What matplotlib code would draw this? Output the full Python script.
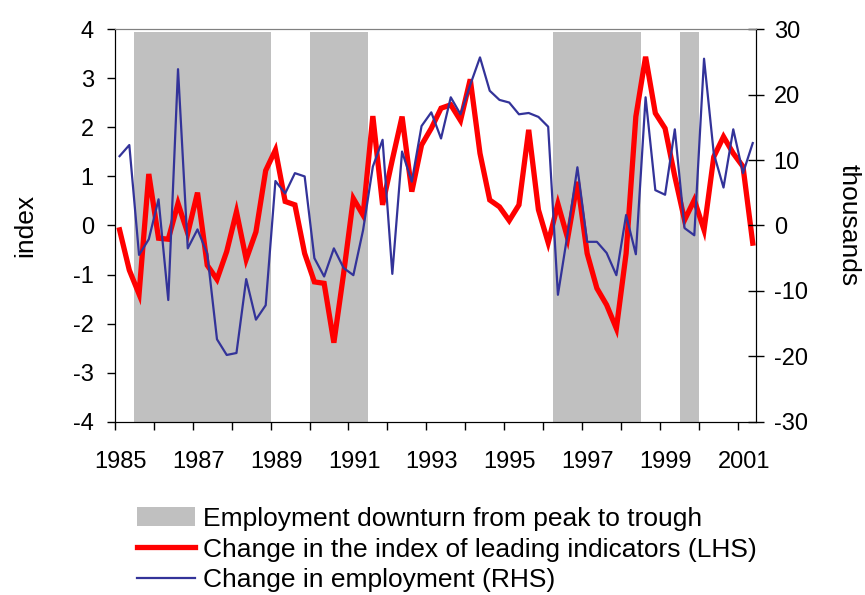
import numpy as np
import matplotlib
matplotlib.use("Agg")
import matplotlib.pyplot as plt
from matplotlib.patches import Patch
from matplotlib.transforms import ScaledTranslation

plt.rcParams["font.family"] = ["Liberation Sans", "DejaVu Sans"]
plt.rcParams["axes.unicode_minus"] = False  # plain hyphen like the original

## quarterly data, 1985 Q1 to 2001 Q3
start_year = 1985

leading_idx = [-0.09, -0.91, -1.40, 1.05, -0.26, -0.28, 0.45, -0.16, 0.67, -0.81,
               -1.10, -0.53, 0.28, -0.69, -0.13, 1.12, 1.54, 0.49, 0.42, -0.57,
               -1.15, -1.18, -2.39, -0.98, 0.55, 0.21, 2.23, 0.42, 1.34, 2.22,
               0.69, 1.64, 1.98, 2.39, 2.46, 2.14, 2.98, 1.47, 0.52, 0.38,
               0.10, 0.42, 1.95, 0.32, -0.35, 0.44, -0.26, 0.89, -0.57, -1.28,
               -1.62, -2.10, -0.57, 2.22, 3.44, 2.29, 1.98, 1.00, 0.11, 0.52,
               -0.09, 1.40, 1.81, 1.47, 1.20, -0.36]

employment = [10.6, 12.3, -4.5, -2.1, 4.0, -11.4, 23.9, -3.5, -0.6, -4.3,
              -17.4, -19.8, -19.5, -8.2, -14.4, -12.2, 6.8, 4.9, 8.0, 7.5,
              -5.0, -7.8, -3.5, -6.5, -7.6, -0.7, 9.0, 13.1, -7.4, 11.3,
              6.7, 15.2, 17.3, 13.3, 19.6, 17.0, 21.5, 25.7, 20.6, 19.2,
              18.8, 17.0, 17.2, 16.6, 15.1, -10.6, -1.2, 8.9, -2.5, -2.5,
              -4.2, -7.6, 1.6, -4.4, 19.6, 5.4, 4.7, 14.7, -0.4, -1.5,
              25.5, 11.0, 5.8, 14.7, 8.0, 12.6]

## downturn periods (peak -> trough)
downturn_start = [1985.5, 1990.0, 1996.25, 1999.5]
downturn_end = [1989.0, 1991.5, 1998.5, 2000.0]

year_ticks = list(range(1985, 2002))
year_labels = [str(y) if y % 2 == 1 else "" for y in year_ticks]

x = start_year + (np.arange(len(leading_idx)) + 0.5) / 4

fig = plt.figure(figsize=(8.65, 5.95), dpi=100)
ax = fig.add_axes([0.1326, 0.2913, 0.741, 0.6595])

for s, e in zip(downturn_start, downturn_end):
    ax.axvspan(s, e, ymin=0, ymax=0.993, color="#c0c0c0", lw=0, zorder=0)

ax.plot(x, leading_idx, color="#ff0000", lw=3.8, solid_joinstyle="miter", zorder=2)
ax.set_ylim(-4, 4)
ax.set_yticks(range(-4, 5))
ax.set_xlim(1985, 2001.45)
ax.set_xticks(year_ticks)
ax.set_xticklabels(year_labels)
ax.set_ylabel("index", fontsize=19, labelpad=26)

ax2 = ax.twinx()
ax2.plot(x, employment, color="#333399", lw=1.6, zorder=3)
ax2.set_ylim(-30, 30)
ax2.set_yticks(range(-30, 31, 10))
ax2.set_ylabel("thousands", fontsize=19, rotation=270, labelpad=38)

ax.tick_params(axis="y", direction="out", length=6, width=1, labelsize=17, pad=9)
ax.tick_params(axis="x", direction="out", length=6, width=1, labelsize=17, pad=15)
ax2.tick_params(axis="y", direction="inout", length=12, width=1, labelsize=17, pad=7)

for a in (ax, ax2):
    a.spines["top"].set_color("#808080")
    a.spines["left"].set_color("black")
    a.spines["right"].set_color("black")
    a.spines["bottom"].set_color("black")

## nudge the year labels a bit to the right like the original
for lab in ax.get_xticklabels():
    lab.set_transform(lab.get_transform() + ScaledTranslation(4 / 72, 0, fig.dpi_scale_trans))

handles = [
    Patch(facecolor="#c0c0c0", edgecolor="none"),
    plt.Line2D([], [], color="#ff0000", lw=3.8),
    plt.Line2D([], [], color="#333399", lw=1.6),
]
labels = [
    "Employment downturn from peak to trough",
    "Change in the index of leading indicators (LHS)",
    "Change in employment (RHS)",
]
fig.legend(handles, labels, loc="upper left", bbox_to_anchor=(0.158, 0.148),
           frameon=False, fontsize=19, handlelength=2.2, handleheight=0.7,
           handletextpad=0.3, labelspacing=0.25, borderpad=0, borderaxespad=0)

fig.savefig("out.png", dpi=100)
